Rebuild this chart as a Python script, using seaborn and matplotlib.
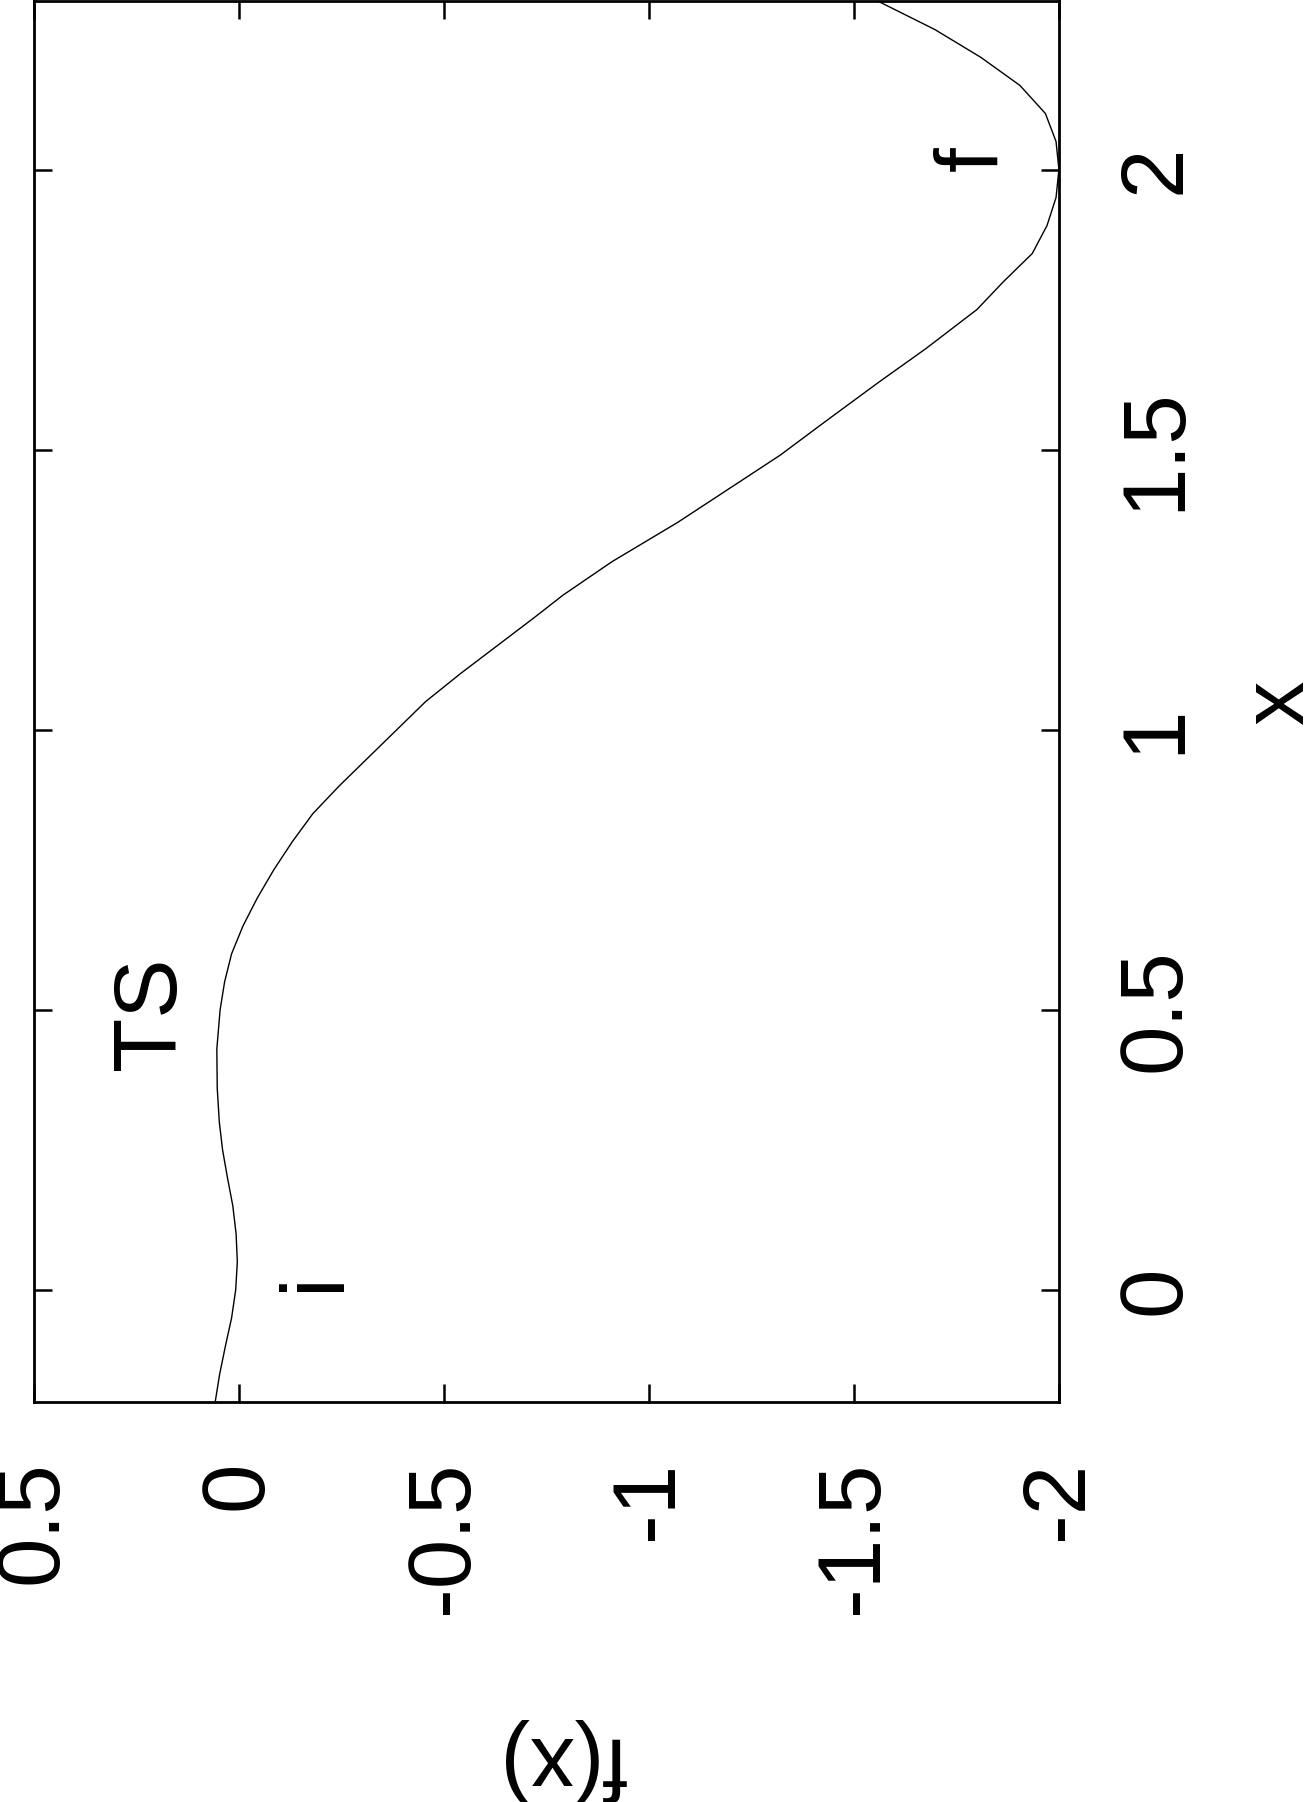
import matplotlib
matplotlib.use('Agg')
import matplotlib.pyplot as plt
import seaborn as sns

x_vals = [-0.2, -0.15, -0.1, -0.05, 0.0, 0.05, 0.1, 0.15, 0.2, 0.25, 0.3,
          0.36, 0.43, 0.5, 0.55, 0.6, 0.65, 0.7, 0.75, 0.8, 0.85, 0.9,
          0.95, 1.0, 1.05, 1.1, 1.15, 1.2, 1.24, 1.3, 1.37, 1.43, 1.49,
          1.55, 1.62, 1.68, 1.75, 1.8, 1.85, 1.9, 1.95, 2.0, 2.05, 2.1,
          2.15, 2.2, 2.25, 2.3]
f_vals = [0.058, 0.047, 0.033, 0.018, 0.008, 0.004, 0.007, 0.015, 0.028, 0.04, 0.048,
          0.053, 0.054, 0.046, 0.035, 0.018, -0.01, -0.045, -0.085, -0.13, -0.18, -0.245,
          -0.315, -0.385, -0.455, -0.54, -0.63, -0.72, -0.79, -0.91, -1.07, -1.195, -1.32,
          -1.43, -1.56, -1.675, -1.80, -1.865, -1.935, -1.971, -1.993, -2.0, -1.993, -1.967,
          -1.905, -1.81, -1.697, -1.56]

f_ticks = [0.5, 0.0, -0.5, -1.0, -1.5, -2.0]
f_ticklabels = ['0.5', '0', '-0.5', '-1', '-1.5', '-2']
x_ticks = [0.0, 0.5, 1.0, 1.5, 2.0]
x_ticklabels = ['0', '0.5', '1', '1.5', '2']

# point labels: (text, f, x)
point_labels = [('TS', 0.212, 0.494), ('i', -0.188, 0.016), ('f', -1.795, 2.02)]

sns.set_theme(style='ticks')
plt.rcParams['font.family'] = ['Liberation Sans', 'DejaVu Sans']
plt.rcParams['axes.unicode_minus'] = False
plt.rcParams['text.color'] = 'black'

FS = 64
fig = plt.figure(figsize=(13.12, 18.02), dpi=100)
ax = fig.add_axes([0.0259, 0.222, 0.7812, 0.7772])

# page is turned a quarter: f(x) runs along the bottom, x runs upward
sns.lineplot(x=f_vals, y=x_vals, sort=False, estimator=None,
             color='black', linewidth=1.0, ax=ax)

ax.set_xlim(0.5, -2.0)
ax.set_ylim(-0.2, 2.3)
ax.set_xticks(f_ticks)
ax.set_xticklabels(f_ticklabels, rotation=90, va='top', ha='center')
ax.set_yticks(x_ticks)
ax.set_yticklabels(x_ticklabels, rotation=90, va='center', ha='left')

ax.tick_params(axis='both', direction='in', length=13, width=1.8,
               labelsize=FS, colors='black', labelcolor='black')
ax.tick_params(axis='x', top=True, bottom=True, pad=42)
ax.tick_params(axis='y', left=True, right=True, labelleft=False,
               labelright=True, pad=40)

for side in ax.spines.values():
    side.set_linewidth(2.0)
    side.set_color('black')

ax.set_xlabel('f(x)', fontsize=FS, rotation=180, color='black')
ax.xaxis.set_label_coords(0.515, -0.226)
ax.yaxis.set_label_position('right')
ax.set_ylabel('x', fontsize=FS, rotation=90, color='black')
ax.yaxis.set_label_coords(1.175, 0.5)

for text, fx, xx in point_labels:
    ax.text(fx, xx, text, fontsize=FS, rotation=90, ha='center', va='center',
            color='black')

ax.grid(False)
ax.set_facecolor('white')
fig.patch.set_facecolor('white')

fig.savefig('out.png', dpi=100)
plt.close(fig)
